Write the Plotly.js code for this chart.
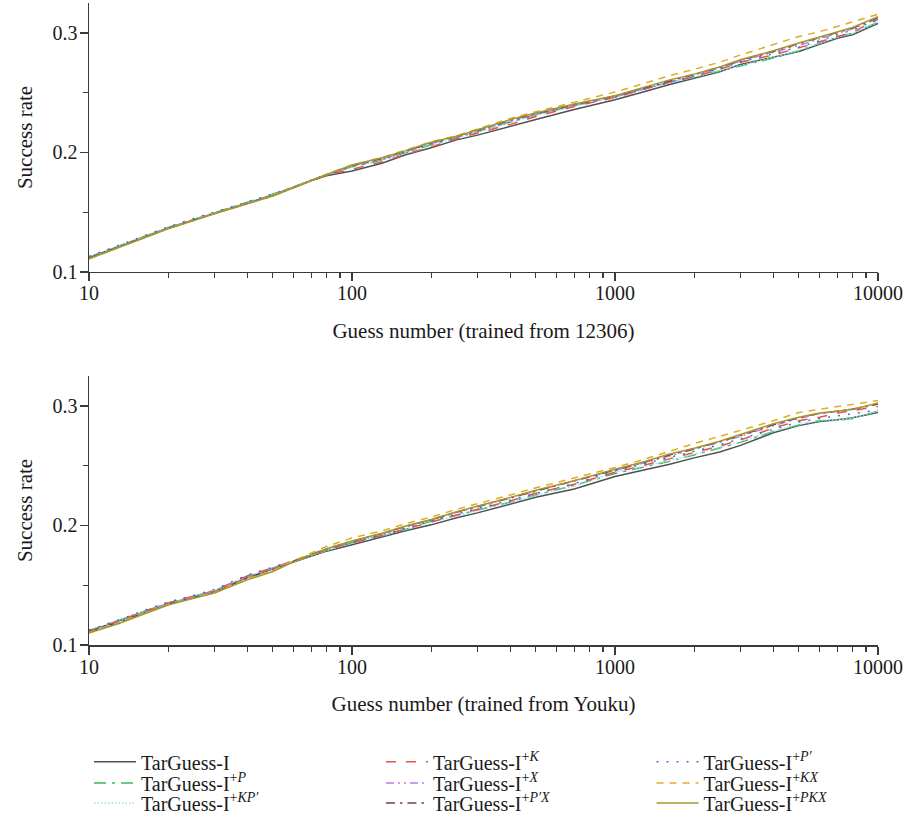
<!DOCTYPE html>
<html>
<head>
<meta charset="utf-8">
<script src="https://cdn.plot.ly/plotly-3.0.1.min.js"></script>
<style>html,body{margin:0;padding:0;background:#fff;}#chart{width:906px;height:818px;}</style>
</head>
<body>
<div id="chart"></div>
<script>
// Guess numbers (x)
const guesses = [10,13,16,20,25,30,40,50,60,70,80,100,130,160,200,250,300,400,500,700,1000,1300,1600,2000,2500,3000,4000,5000,6000,7000,8000,10000];

// Series names (legend order: column by column)
const seriesNames = [
  'TarGuess-I',
  'TarGuess-I<sup>+<i>P</i></sup>',
  'TarGuess-I<sup>+<i>KP′</i></sup>',
  'TarGuess-I<sup>+<i>K</i></sup>',
  'TarGuess-I<sup>+<i>X</i></sup>',
  'TarGuess-I<sup>+<i>P′X</i></sup>',
  'TarGuess-I<sup>+<i>P′</i></sup>',
  'TarGuess-I<sup>+<i>KX</i></sup>',
  'TarGuess-I<sup>+<i>PKX</i></sup>'
];

// Top chart: trained from 12306
const top_I    = [0.112,0.1214,0.1288,0.1368,0.1435,0.149,0.1577,0.1644,0.171,0.1765,0.1805,0.1845,0.191,0.198,0.204,0.2105,0.2145,0.2215,0.2275,0.236,0.244,0.251,0.2567,0.262,0.2675,0.2735,0.2795,0.2845,0.2905,0.2955,0.2985,0.308];
const top_P    = [0.1125,0.122,0.1295,0.1372,0.144,0.1495,0.1585,0.1652,0.1712,0.177,0.1812,0.188,0.1935,0.2,0.2065,0.2125,0.2175,0.2255,0.2315,0.239,0.2475,0.2535,0.2585,0.263,0.268,0.2725,0.279,0.285,0.2915,0.2965,0.2995,0.309];
const top_KPp  = [0.1125,0.1218,0.1293,0.137,0.1438,0.1494,0.158,0.1648,0.1712,0.1768,0.1812,0.1878,0.1935,0.1998,0.2062,0.2122,0.2172,0.2252,0.2312,0.2388,0.2465,0.253,0.2582,0.263,0.2682,0.273,0.2795,0.2855,0.2915,0.2962,0.2995,0.309];
const top_K    = [0.1115,0.121,0.1285,0.1366,0.1434,0.149,0.1575,0.1642,0.1708,0.1766,0.181,0.186,0.192,0.1985,0.2045,0.2115,0.216,0.2235,0.23,0.2385,0.246,0.253,0.2585,0.2635,0.2695,0.2755,0.2815,0.2875,0.2925,0.2965,0.3005,0.3115];
const top_X    = [0.1115,0.1212,0.1288,0.1368,0.1436,0.149,0.1575,0.164,0.1708,0.1766,0.1812,0.1885,0.1945,0.2008,0.2075,0.213,0.2182,0.2262,0.2315,0.2395,0.2465,0.2535,0.259,0.2645,0.2705,0.2765,0.2835,0.2895,0.295,0.2995,0.3035,0.312];
const top_PpX  = [0.1115,0.1208,0.1284,0.1365,0.1433,0.149,0.1572,0.1638,0.1706,0.1766,0.1814,0.189,0.195,0.2012,0.208,0.2135,0.2188,0.227,0.2325,0.24,0.2472,0.254,0.26,0.2652,0.2712,0.2772,0.2845,0.291,0.296,0.3005,0.304,0.313];
const top_Pp   = [0.113,0.1225,0.13,0.1378,0.1448,0.1502,0.1588,0.165,0.1712,0.1768,0.181,0.1885,0.194,0.2005,0.207,0.2128,0.2178,0.2258,0.2318,0.2395,0.2462,0.2532,0.2585,0.264,0.27,0.2758,0.2825,0.288,0.2935,0.2985,0.3025,0.311];
const top_KX   = [0.111,0.1207,0.1282,0.1364,0.1432,0.149,0.1572,0.1638,0.1708,0.1768,0.1818,0.1895,0.1958,0.202,0.209,0.214,0.2195,0.2285,0.234,0.242,0.2505,0.258,0.264,0.2695,0.2755,0.2815,0.29,0.297,0.301,0.3055,0.309,0.3155];
const top_PKX  = [0.111,0.1205,0.128,0.1362,0.143,0.1488,0.157,0.1635,0.1705,0.1765,0.1815,0.1895,0.1955,0.2015,0.2085,0.2135,0.219,0.2275,0.233,0.2405,0.2475,0.2545,0.2605,0.2655,0.2715,0.2775,0.285,0.2915,0.2965,0.301,0.3045,0.3135];

// Bottom chart: trained from Youku
const bot_I    = [0.1115,0.12,0.127,0.1345,0.14,0.1446,0.1565,0.1635,0.1697,0.1745,0.1785,0.1838,0.1905,0.1955,0.2005,0.2065,0.2105,0.2175,0.2235,0.2305,0.241,0.2465,0.251,0.2565,0.2615,0.267,0.2775,0.2835,0.287,0.2885,0.29,0.2945];
const bot_P    = [0.112,0.1205,0.1278,0.1352,0.1408,0.1455,0.1575,0.1645,0.1702,0.175,0.1792,0.1855,0.1915,0.1968,0.2035,0.2085,0.2125,0.2195,0.2255,0.2335,0.2435,0.249,0.2535,0.259,0.2645,0.2695,0.2785,0.284,0.2875,0.288,0.2895,0.2955];
const bot_KPp  = [0.112,0.1205,0.1278,0.135,0.1405,0.1452,0.1572,0.1642,0.17,0.1748,0.179,0.1852,0.1912,0.1965,0.203,0.208,0.2122,0.2192,0.2252,0.233,0.2445,0.2495,0.254,0.2595,0.265,0.27,0.2788,0.2845,0.2878,0.2885,0.29,0.2955];
const bot_K    = [0.1115,0.1202,0.1275,0.1352,0.1408,0.1455,0.1578,0.165,0.1705,0.1752,0.1795,0.1855,0.1915,0.197,0.203,0.2085,0.2135,0.2205,0.227,0.2345,0.2445,0.2505,0.2555,0.2615,0.2665,0.2715,0.2815,0.2875,0.2905,0.294,0.296,0.2995];
const bot_X    = [0.111,0.1195,0.1268,0.1345,0.14,0.145,0.1565,0.1638,0.1702,0.1758,0.1805,0.1865,0.193,0.199,0.2045,0.211,0.2155,0.2228,0.229,0.237,0.246,0.2525,0.258,0.2635,0.2695,0.2745,0.2835,0.2895,0.2935,0.2955,0.2975,0.3015];
const bot_PpX  = [0.111,0.119,0.1262,0.134,0.1395,0.1445,0.156,0.1632,0.17,0.1758,0.1805,0.1868,0.1932,0.1992,0.2048,0.2112,0.2158,0.2232,0.2292,0.2372,0.2465,0.253,0.2588,0.264,0.27,0.2752,0.2842,0.29,0.2938,0.2955,0.2972,0.3015];
const bot_Pp   = [0.1125,0.121,0.1285,0.136,0.1415,0.1465,0.1585,0.1648,0.1705,0.1755,0.1798,0.186,0.1922,0.1978,0.204,0.2095,0.214,0.2212,0.2272,0.235,0.2455,0.2515,0.2565,0.262,0.2675,0.2725,0.281,0.2865,0.2895,0.2915,0.293,0.2965];
const bot_KX   = [0.1105,0.1188,0.1262,0.134,0.1395,0.1442,0.1555,0.1625,0.1705,0.177,0.1825,0.1895,0.1955,0.2015,0.207,0.2135,0.218,0.2255,0.2315,0.2395,0.2485,0.2555,0.262,0.2685,0.2745,0.2795,0.2875,0.2945,0.297,0.2995,0.301,0.3045];
const bot_PKX  = [0.110,0.118,0.1255,0.1335,0.139,0.1435,0.1545,0.1615,0.1695,0.1755,0.1805,0.187,0.1935,0.1995,0.205,0.2115,0.216,0.2235,0.2295,0.2375,0.247,0.2535,0.2595,0.2645,0.2705,0.276,0.285,0.2905,0.294,0.2955,0.297,0.3025];

const xTickVals = [10,100,1000,10000];
const xTickText = ['10','100','1000','10000'];
const xMinorVals = [20,30,40,50,60,70,80,90,200,300,400,500,600,700,800,900,2000,3000,4000,5000,6000,7000,8000,9000];
const yTickVals = [0.1,0.2,0.3];
const yTickText = ['0.1','0.2','0.3'];
const yMinorVals = [0.15,0.25];

const topSeries = [top_I, top_P, top_KPp, top_K, top_X, top_PpX, top_Pp, top_KX, top_PKX];
const botSeries = [bot_I, bot_P, bot_KPp, bot_K, bot_X, bot_PpX, bot_Pp, bot_KX, bot_PKX];

const styles = [
  {color:'#505050', dash:'solid'},
  {color:'#3cb95c', dash:'12px,6px,3px,6px'},
  {color:'#8fe3ee', dash:'1.5px,2px'},
  {color:'#ee4f4f', dash:'10px,10px'},
  {color:'#b77ee8', dash:'8px,4px,2px,4px,2px,4px'},
  {color:'#7a3f43', dash:'9px,5px,2.5px,5px'},
  {color:'#3f6fd6', dash:'2px,8px'},
  {color:'#e5aa25', dash:'7px,6px'},
  {color:'#9e9a2e', dash:'solid'}
];

const legendIds = ['legend','legend2','legend3','legend4','legend5','legend6','legend7','legend8','legend9'];

const traces = [];
topSeries.forEach((ys,i)=>{
  traces.push({x:guesses, y:ys, xaxis:'x', yaxis:'y', type:'scatter', mode:'lines',
    name:seriesNames[i], legend:legendIds[i],
    line:{color:styles[i].color, dash:styles[i].dash, width:1.5}});
});
botSeries.forEach((ys,i)=>{
  traces.push({x:guesses, y:ys, xaxis:'x2', yaxis:'y2', type:'scatter', mode:'lines',
    name:seriesNames[i], showlegend:false,
    line:{color:styles[i].color, dash:styles[i].dash, width:1.5}});
});

const FONT = '"Liberation Serif", "Times New Roman", serif';
const TXT = '#1a1a1a';
const axColor = '#3a3a3a';
function xAxis(title, anchor){
  return {type:'log', range:[1,4], anchor:anchor, tickmode:'array', tickvals:xTickVals, ticktext:xTickText,
    ticks:'outside', ticklen:8, tickwidth:1.3, tickcolor:axColor, showline:true, linecolor:axColor, linewidth:1.5,
    showgrid:false, zeroline:false, ticklabelstandoff:-5,
    minor:{tickmode:'array', tickvals:xMinorVals, ticks:'outside', ticklen:5, tickwidth:1.2, tickcolor:axColor, showgrid:false},
    tickfont:{family:FONT, size:20, color:TXT},
    title:{text:title, font:{family:FONT, size:21, color:TXT}, standoff:20}};
}
function yAxis(domain, anchor){
  return {domain:domain, anchor:anchor, range:[0.1,0.325], tickmode:'array', tickvals:yTickVals, ticktext:yTickText,
    ticks:'outside', ticklen:8, tickwidth:1.3, tickcolor:axColor, showline:true, linecolor:axColor, linewidth:1.5,
    showgrid:false, zeroline:false, ticklabelstandoff:-2,
    minor:{tickmode:'array', tickvals:yMinorVals, ticks:'outside', ticklen:5, tickwidth:1.2, tickcolor:axColor, showgrid:false},
    tickfont:{family:FONT, size:20, color:TXT},
    title:{text:'Success rate', font:{family:FONT, size:21, color:TXT}, standoff:14}};
}

// Legend grid: column x (paper) and row y (paper)
const legendColX = [0.0, 0.370, 0.713];
const legendRowY = [-0.182, -0.215, -0.2461];
function legendAt(col,row){
  return {orientation:'v', x:legendColX[col], y:legendRowY[row], xanchor:'left', yanchor:'middle',
    bgcolor:'rgba(0,0,0,0)', font:{family:FONT, size:20, color:TXT}, itemwidth:42};
}

const layout = {
  width:906, height:818,
  margin:{l:89, r:28, t:3, b:173, autoexpand:false},
  paper_bgcolor:'#fff', plot_bgcolor:'#fff',
  font:{family:FONT, size:20, color:TXT},
  xaxis: xAxis('Guess number (trained from 12306)', 'y'),
  yaxis: yAxis([0.581,1], 'x'),
  xaxis2: xAxis('Guess number (trained from Youku)', 'y2'),
  yaxis2: yAxis([0,0.419], 'x2'),
  showlegend:true
};
legendIds.forEach((id,i)=>{ layout[id] = legendAt(Math.floor(i/3), i%3); });

Plotly.newPlot('chart', traces, layout, {staticPlot:true, displayModeBar:false});
</script>
</body>
</html>
